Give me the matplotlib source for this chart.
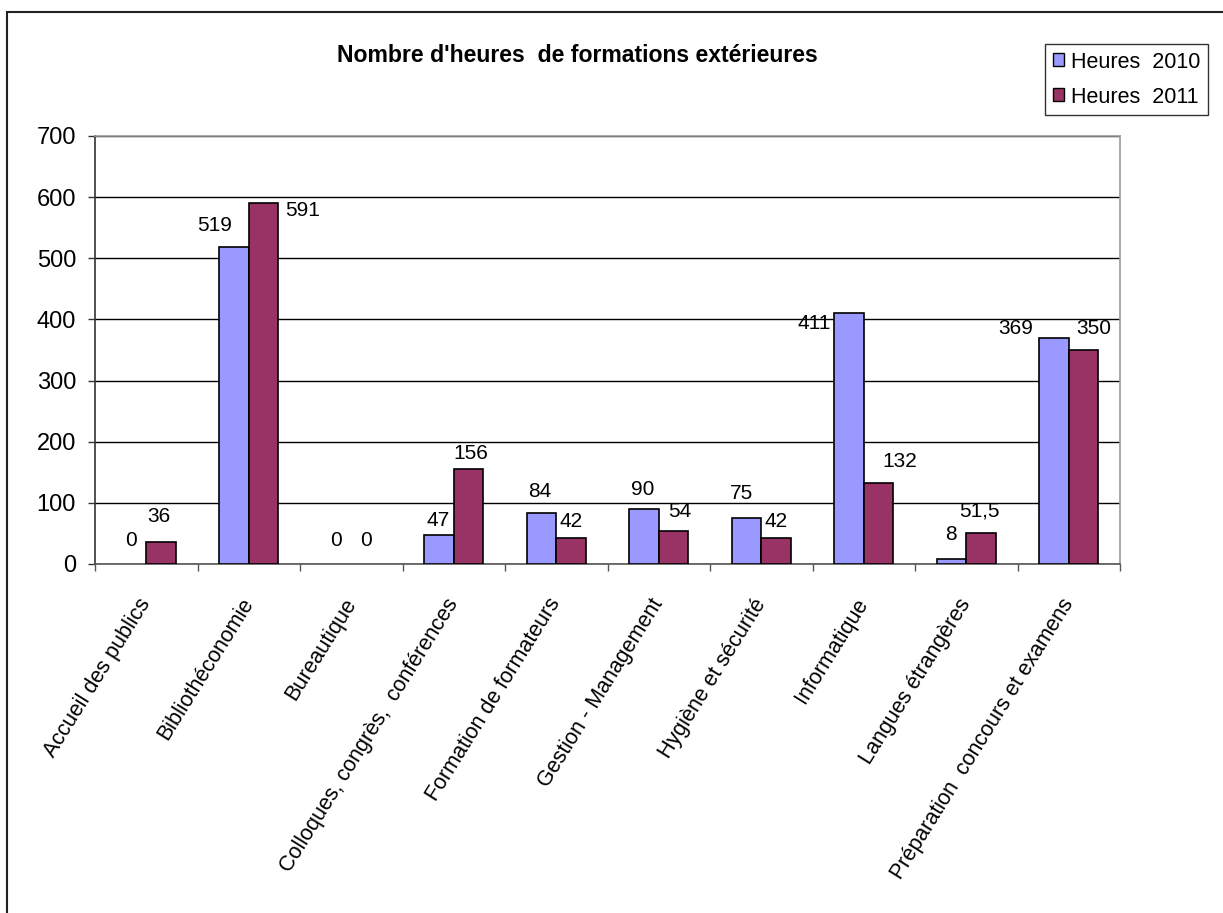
import numpy as np
import matplotlib.pyplot as plt
from matplotlib.patches import Rectangle, Patch

plt.rcParams['font.family'] = ['Liberation Sans', 'DejaVu Sans']

categories = ["Accueil des publics", "Bibliothéconomie", "Bureautique",
              "Colloques, congrès,  conférences", "Formation de formateurs",
              "Gestion - Management", "Hygiène et sécurité", "Informatique",
              "Langues étrangères", "Préparation  concours et examens"]
hours_2010 = [0, 519, 0, 47, 84, 90, 75, 411, 8, 369]
hours_2011 = [36, 591, 0, 156, 42, 54, 42, 132, 51.5, 350]
labels_2010 = ["0", "519", "0", "47", "84", "90", "75", "411", "8", "369"]
labels_2011 = ["36", "591", "0", "156", "42", "54", "42", "132", "51,5", "350"]

# label nudges (pixels from bar top centre), Excel moved some labels around
nudge_2010 = [(0, 24), (-19, 21), (0, 24), (-1, 15), (-2, 21), (-1, 19), (-5, 25), (-35, -11), (0, 25), (-38, 10)]
nudge_2011 = [(-2, 25), (39, -8), (0, 24), (2, 15), (0, 17), (6, 19), (0, 17), (21, 22), (-2, 22), (10, 21)]

blue = "#9999FF"
plum = "#993366"

fig = plt.figure(figsize=(12.23, 9.13), dpi=100)
ax = fig.add_axes([95 / 1223, 1 - 564 / 913, (1120 - 95) / 1223, (564 - 136) / 913])

x = np.arange(len(categories))
w = 0.29
b1 = ax.bar(x - w / 2, hours_2010, w, color=blue, edgecolor="black", linewidth=1.2, zorder=3)
b2 = ax.bar(x + w / 2, hours_2011, w, color=plum, edgecolor="black", linewidth=1.2, zorder=3)

px = 0.72  # pixels -> points
for bars, labs, nud in [(b1, labels_2010, nudge_2010), (b2, labels_2011, nudge_2011)]:
    for r, lab, (dx, dy) in zip(bars, labs, nud):
        if r.get_height() == 0:
            r.set_linewidth(0)  # empty bars leave no mark
        ax.annotate(lab, (r.get_x() + r.get_width() / 2, r.get_height()),
                    xytext=(dx * px, dy * px), textcoords="offset points",
                    ha="center", va="center", fontsize=15, zorder=4)

ax.set_xlim(-0.5, len(categories) - 0.5)
ax.set_ylim(0, 700)
ax.set_yticks(range(0, 701, 100))
ax.yaxis.grid(True, color="black", linewidth=1)
ax.set_axisbelow(True)
ax.tick_params(axis="y", labelsize=17, length=5, width=1, pad=8.6, color="#333333")

ax.set_xticks(x)
ax.set_xticklabels(categories, rotation=58, ha="right", va="center",
                   rotation_mode="anchor", fontsize=15.5)
ax.set_xticks(np.arange(-0.5, len(categories)), minor=True)
ax.tick_params(axis="x", which="major", length=0, pad=26)
ax.tick_params(axis="x", which="minor", length=5, width=1, color="#555555")

ax.spines["top"].set_color("#999999")
ax.spines["right"].set_color("#999999")
ax.spines["left"].set_color("#333333")
ax.spines["bottom"].set_color("#555555")
for s in ax.spines.values():
    s.set_linewidth(1.2)

fig.text(577 / 1223, 1 - 55 / 913, "Nombre d'heures  de formations extérieures",
         ha="center", va="center", fontsize=16.6, fontweight="bold")

handles = [Patch(facecolor=blue, edgecolor="black"), Patch(facecolor=plum, edgecolor="black")]
leg = fig.legend(handles, ["Heures  2010", "Heures  2011"], loc="upper left",
                 bbox_to_anchor=(1045 / 1223, 1 - 44 / 913), fontsize=15.5,
                 frameon=True, fancybox=False, handlelength=0.55, handleheight=0.55,
                 handletextpad=0.3, labelspacing=0.65, borderpad=0.35, borderaxespad=0)
leg.get_frame().set_edgecolor("black")
leg.get_frame().set_linewidth(1)

# outer chart border (right and bottom fall outside the picture)
fig.patches.append(Rectangle((7 / 1223, -0.05), 1.1, 1 - 12 / 913 + 0.05,
                             transform=fig.transFigure, fill=False,
                             edgecolor="#222222", linewidth=1.5))

fig.savefig("out.png", dpi=100)
